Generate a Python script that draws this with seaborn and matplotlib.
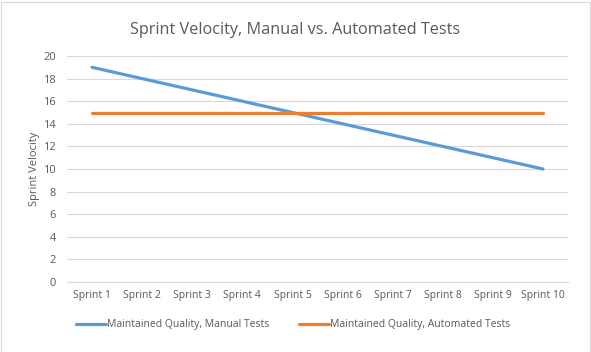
import pandas as pd
import matplotlib.pyplot as plt
import seaborn as sns

# data
sprints = ["Sprint 1", "Sprint 2", "Sprint 3", "Sprint 4", "Sprint 5",
           "Sprint 6", "Sprint 7", "Sprint 8", "Sprint 9", "Sprint 10"]
manual = [19, 18, 17, 16, 15, 14, 13, 12, 11, 10]
automated = [15, 15, 15, 15, 15, 15, 15, 15, 15, 15]
series_names = ["Maintained Quality, Manual Tests", "Maintained Quality, Automated Tests"]

df = pd.DataFrame({
    "Sprint": sprints * 2,
    "Velocity": manual + automated,
    "Series": [series_names[0]] * len(sprints) + [series_names[1]] * len(sprints),
})

sns.set_style("white")
plt.rcParams["font.family"] = ["Open Sans", "DejaVu Sans"]
text_col = "#595959"

fig = plt.figure(figsize=(5.91, 3.52), dpi=100)
ax = fig.add_axes([67 / 591, 70 / 352, 501 / 591, 226 / 352])

sns.lineplot(data=df, x="Sprint", y="Velocity", hue="Series", sort=False,
             palette=["#5b9bd5", "#ed7d31"], linewidth=2.3, ax=ax,
             solid_capstyle="round")

ax.set_xlim(-0.5, len(sprints) - 0.5)
ax.set_ylim(0, 20)
ax.set_yticks(range(0, 21, 2))
ax.grid(axis="y", color="#d9d9d9", linewidth=0.8)
ax.set_axisbelow(True)
for s in ["top", "right", "left"]:
    ax.spines[s].set_visible(False)
ax.spines["bottom"].set_color("#d9d9d9")
ax.tick_params(axis="x", length=0, labelsize=7.5, colors=text_col, pad=6)
ax.tick_params(axis="y", length=0, labelsize=8, colors=text_col, pad=8)
ax.set_xlabel("")
ax.set_ylabel("Sprint Velocity", fontsize=8, color=text_col, labelpad=2)

fig.text(295 / 591, 1 - 30 / 352, "Sprint Velocity, Manual vs. Automated Tests",
         ha="center", va="center", fontsize=11.7, color=text_col)

handles, labels = ax.get_legend_handles_labels()
ax.get_legend().remove()
fig.legend(handles, labels, loc="center", bbox_to_anchor=(293 / 591, 1 - 325 / 352),
           ncol=2, frameon=False, fontsize=7.5, labelcolor=text_col,
           handlelength=2.9, columnspacing=2.9, handletextpad=0.05)

# light border around chart
fig.patches.append(plt.Rectangle((0.5 / 591, 0.5 / 352), 589 / 591, 350 / 352,
                                 transform=fig.transFigure, fill=False,
                                 edgecolor="#d9d9d9", linewidth=0.8))

fig.savefig("out.png", dpi=100)
